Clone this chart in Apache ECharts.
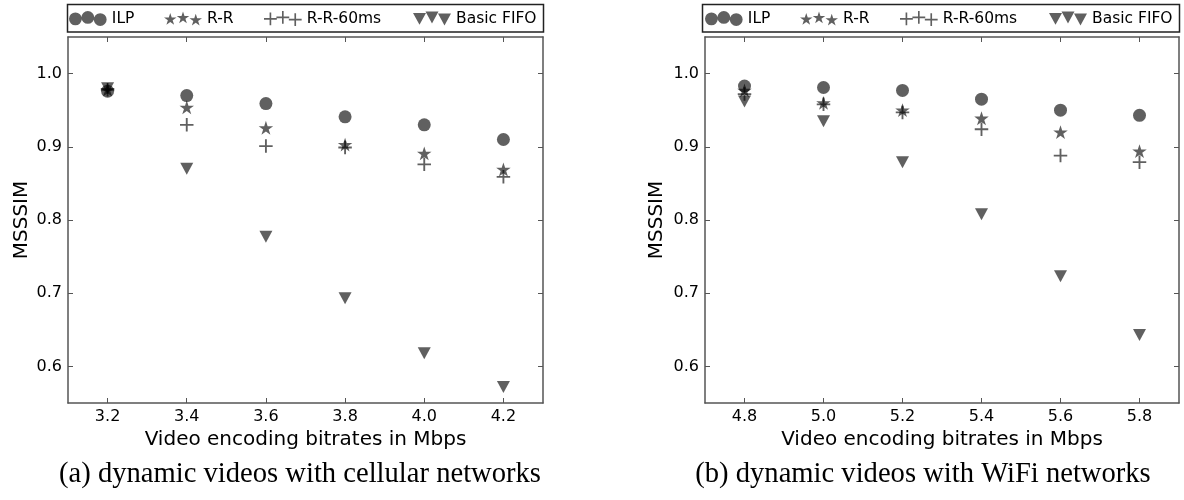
<!DOCTYPE html>
<html>
<head>
<meta charset="utf-8">
<script src="https://cdn.jsdelivr.net/npm/echarts@6/dist/echarts.min.js"></script>
<style>
html,body{margin:0;padding:0;background:#fff;}
#chart{width:1184px;height:500px;}
</style>
</head>
<body>
<div id="chart"></div>
<script>
// ---------- data ----------
const seriesNames = ['ILP', 'R-R', 'R-R-60ms', 'Basic FIFO'];

const cellBitrates = [3.2, 3.4, 3.6, 3.8, 4.0, 4.2];
const cellILP  = [0.976, 0.970, 0.959, 0.941, 0.930, 0.910];
const cellRR   = [0.978, 0.954, 0.926, 0.903, 0.891, 0.869];
const cellRR60 = [0.978, 0.930, 0.901, 0.899, 0.876, 0.859];
const cellFIFO = [0.980, 0.870, 0.777, 0.693, 0.618, 0.572];

const wifiBitrates = [4.8, 5.0, 5.2, 5.4, 5.6, 5.8];
const wifiILP  = [0.983, 0.981, 0.977, 0.965, 0.950, 0.943];
const wifiRR   = [0.977, 0.960, 0.950, 0.939, 0.920, 0.894];
const wifiRR60 = [0.972, 0.958, 0.947, 0.924, 0.888, 0.879];
const wifiFIFO = [0.962, 0.935, 0.879, 0.808, 0.723, 0.643];

const cellXTicks = [3.2, 3.4, 3.6, 3.8, 4.0, 4.2];
const cellXTickLabels = ['3.2', '3.4', '3.6', '3.8', '4.0', '4.2'];
const wifiXTicks = [4.8, 5.0, 5.2, 5.4, 5.6, 5.8];
const wifiXTickLabels = ['4.8', '5.0', '5.2', '5.4', '5.6', '5.8'];
const yTicks = [0.6, 0.7, 0.8, 0.9, 1.0];
const yTickLabels = ['0.6', '0.7', '0.8', '0.9', '1.0'];

const xAxisName = 'Video encoding bitrates in Mbps';
const yAxisName = 'MSSSIM';
const captionA = '(a) dynamic videos with cellular networks';
const captionB = '(b) dynamic videos with WiFi networks';

// ---------- styling ----------
const MARK = 'rgba(0,0,0,0.78)';
const AXIS = '#555';
const FONT = 'DejaVu Sans';

// marker shapes
function starPts(cx, cy, R) {
  const r = R * 0.382, pts = [];
  for (let k = 0; k < 10; k++) {
    const a = (-90 + k * 36) * Math.PI / 180, rr = k % 2 ? r : R;
    pts.push([cx + rr * Math.cos(a), cy + rr * Math.sin(a)]);
  }
  return 'M' + pts.map(p => p[0].toFixed(2) + ',' + p[1].toFixed(2)).join(' L') + ' Z';
}
function circleP(cx, cy, r) {
  return `M${cx - r},${cy} A${r},${r} 0 1,0 ${cx + r},${cy} A${r},${r} 0 1,0 ${cx - r},${cy} Z`;
}
function plusP(cx, cy, h, t) {
  const a = t / 2;
  return `M${cx - h},${cy - a} H${cx - a} V${cy - h} H${cx + a} V${cy - a} H${cx + h} V${cy + a} H${cx + a} V${cy + h} H${cx - a} V${cy + a} H${cx - h} Z`;
}
function triP(cx, cy, w, h) {
  return `M${cx - w / 2},${cy - h / 2} L${cx + w / 2},${cy - h / 2} L${cx},${cy + h / 2} Z`;
}
const symStar = 'path://' + starPts(10, 10, 10);
const symPlus = 'path://' + plusP(6.5, 6.5, 6.5, 1.8);
const symTri = 'path://' + triP(6.5, 6, 13, 12);

const legendXs = [6.5, 18.5, 30.5];
const legendYs = [7.4, 6.0, 8.1];
function legendIcon(fn) {
  return 'path://' + legendXs.map((x, i) => fn(x, legendYs[i])).join(' ');
}
const icons = [
  legendIcon((x, y) => circleP(x, y, 6.2)),
  legendIcon((x, y) => starPts(x, y, 6.2)),
  legendIcon((x, y) => plusP(x, y, 6.2, 1.6)),
  legendIcon((x, y) => triP(x, y, 12.5, 11.5))
];
const symbols = ['circle', symStar, symPlus, symTri];
const symbolSizes = [13, [14.5, 13.8], 13.5, [13, 12]];

function pairs(xs, ys) { return xs.map((x, i) => [x, ys[i]]); }
function labelFor(ticks, labels) {
  return v => {
    let best = 0;
    ticks.forEach((t, i) => { if (Math.abs(t - v) < Math.abs(ticks[best] - v)) best = i; });
    return labels[best];
  };
}

function xAxis(grid, pos, ticks, labels, min, max, showLabel) {
  return {
    type: 'value', gridIndex: grid, position: pos, min: min, max: max,
    name: showLabel ? xAxisName : '', nameLocation: 'middle', nameGap: 25,
    nameTextStyle: { fontSize: 20, fontFamily: FONT, color: '#000' },
    axisLine: { show: true, onZero: false, lineStyle: { color: AXIS, width: 1.5 } },
    axisTick: { show: true, inside: true, length: 5, customValues: ticks, lineStyle: { color: AXIS, width: 1 } },
    axisLabel: { show: showLabel, customValues: ticks, formatter: labelFor(ticks, labels),
      fontSize: 16, fontFamily: FONT, color: '#000', margin: 6 },
    splitLine: { show: false }
  };
}
function yAxis(grid, pos, showLabel, gap) {
  return {
    type: 'value', gridIndex: grid, position: pos, min: 0.55, max: 1.05,
    name: showLabel ? yAxisName : '', nameLocation: 'middle', nameGap: gap,
    nameTextStyle: { fontSize: 20, fontFamily: FONT, color: '#000' },
    axisLine: { show: true, onZero: false, lineStyle: { color: AXIS, width: 1.5 } },
    axisTick: { show: true, inside: true, length: 5, customValues: yTicks, lineStyle: { color: AXIS, width: 1 } },
    axisLabel: { show: showLabel, customValues: yTicks, formatter: labelFor(yTicks, yTickLabels),
      fontSize: 16, fontFamily: FONT, color: '#000', margin: 6 },
    splitLine: { show: false }
  };
}

const cellData = [cellILP, cellRR, cellRR60, cellFIFO];
const wifiData = [wifiILP, wifiRR, wifiRR60, wifiFIFO];
const series = [];
[[cellBitrates, cellData, 0, 0], [wifiBitrates, wifiData, 2, 2]].forEach(([xs, sets, xi, yi]) => {
  sets.forEach((ys, k) => {
    series.push({
      type: 'scatter', name: seriesNames[k], xAxisIndex: xi, yAxisIndex: yi,
      symbol: symbols[k], symbolSize: symbolSizes[k],
      itemStyle: { color: MARK },
      data: pairs(xs, ys), z: 2 + k
    });
  });
});

// x position of each legend label text
const legendTextXs = [[112, 207, 307, 456], [748, 843, 943, 1092]];
const ICON_W = 38;
const legends = [];
legendTextXs.forEach(row => {
  row.forEach((tx, k) => {
    legends.push({
      left: tx - ICON_W - 5, top: 10.5, padding: 0, itemWidth: ICON_W, itemHeight: 15, itemGap: 0,
      data: [{ name: seriesNames[k], icon: icons[k] }],
      textStyle: { fontSize: 15.5, fontFamily: FONT, color: '#000' },
      selectedMode: false
    });
  });
});

const option = {
  animation: false,
  backgroundColor: '#fff',
  grid: [
    { left: 68, top: 37, width: 475, height: 366 },
    { left: 705, top: 37, width: 474, height: 366 }
  ],
  xAxis: [
    xAxis(0, 'bottom', cellXTicks, cellXTickLabels, 3.1, 4.3, true),
    xAxis(0, 'top', cellXTicks, cellXTickLabels, 3.1, 4.3, false),
    xAxis(1, 'bottom', wifiXTicks, wifiXTickLabels, 4.7, 5.9, true),
    xAxis(1, 'top', wifiXTicks, wifiXTickLabels, 4.7, 5.9, false)
  ],
  yAxis: [
    yAxis(0, 'left', true, 36),
    yAxis(0, 'right', false, 0),
    yAxis(1, 'left', true, 38),
    yAxis(1, 'right', false, 0)
  ],
  legend: legends,
  series: series,
  graphic: [
    { type: 'rect', shape: { x: 67.5, y: 4.5, width: 476, height: 27.5 },
      style: { fill: 'none', stroke: '#222', lineWidth: 1.5 }, silent: true },
    { type: 'rect', shape: { x: 702.5, y: 4.5, width: 477, height: 27.5 },
      style: { fill: 'none', stroke: '#222', lineWidth: 1.5 }, silent: true },
    { type: 'text', style: { text: captionA, x: 300, y: 474, align: 'center', verticalAlign: 'middle',
      font: '28.6px "Liberation Serif"', fill: '#000' }, silent: true },
    { type: 'text', style: { text: captionB, x: 923, y: 474, align: 'center', verticalAlign: 'middle',
      font: '28.6px "Liberation Serif"', fill: '#000' }, silent: true }
  ]
};

const chart = echarts.init(document.getElementById('chart'), null, { renderer: 'canvas' });
chart.setOption(option);
</script>
</body>
</html>
